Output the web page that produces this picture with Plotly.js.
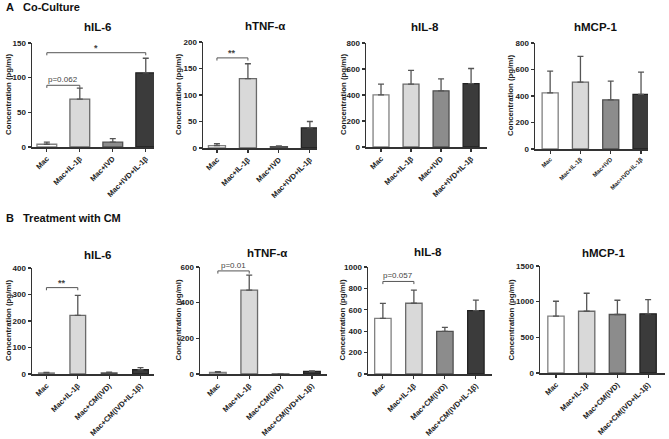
<!DOCTYPE html>
<html>
<head>
<meta charset="utf-8">
<script src="https://cdn.plot.ly/plotly-3.0.1.min.js"></script>
<style>html,body{margin:0;padding:0;background:#fff;}#chart{width:669px;height:439px;}</style>
</head>
<body>
<div id="chart"></div>
<script>
// ---------- DATA ----------
const catsA = ['Mac', 'Mac+IL-1β', 'Mac+IVD', 'Mac+IVD+IL-1β'];
const catsB = ['Mac', 'Mac+IL-1β', 'Mac+CM(IVD)', 'Mac+CM(IVD+IL-1β)'];

const titlesA = ['hIL-6', 'hTNF-α', 'hIL-8', 'hMCP-1'];
const titlesB = ['hIL-6', 'hTNF-α', 'hIL-8', 'hMCP-1'];

// Co-Culture (A): mean and upper error (SEM)
const aIL6Mean = [4, 69, 7, 107];
const aIL6Err  = [3, 16, 5, 21];
const aTNFMean = [4.5, 131, 2.5, 38];
const aTNFErr  = [3.5, 28, 1.5, 12];
const aIL8Mean = [401, 483, 432, 488];
const aIL8Err  = [82, 106, 92, 116];
const aMCPMean = [424, 505, 371, 412];
const aMCPErr  = [164, 194, 142, 168];

// Treatment with CM (B)
const bIL6Mean = [4, 221, 4, 16];
const bIL6Err  = [2, 76, 3, 8];
const bTNFMean = [9, 470, 0.5, 14];
const bTNFErr  = [4, 84, 0, 4];
const bIL8Mean = [520, 661, 398, 592];
const bIL8Err  = [140, 122, 38, 98];
const bMCPMean = [797, 866, 820, 829];
const bMCPErr  = [209, 252, 200, 200];

// y-axis maxima and tick steps
const yMaxA = [150, 200, 800, 800];
const yStepA = [50, 50, 200, 200];
const yMaxB = [400, 600, 1000, 1500];
const yStepB = [100, 200, 200, 500];

// significance brackets: [fromIndex, toIndex, height, label]
const sigAIL6 = [[0, 1, 89, 'p=0.062'], [0, 3, 136, '*']];
const sigATNF = [[0, 1, 170, '**']];
const sigBIL6 = [[0, 1, 326, '**']];
const sigBTNF = [[0, 1, 578, 'p=0.01']];
const sigBIL8 = [[0, 1, 865, 'p=0.057']];

// ---------- LAYOUT / STYLE ----------
const W = 669, H = 439;
const FONT = 'Liberation Sans, Arial, Helvetica, sans-serif';
const fills = ['#ffffff', '#d9d9d9', '#8c8c8c', '#3b3b3b'];
const edges = ['#808080', '#6a6a6a', '#505050', '#222222'];

const panels = [
  {title: titlesA[0], cats: catsA, mean: aIL6Mean, err: aIL6Err, ymax: yMaxA[0], dt: yStepA[0], sig: sigAIL6,
   xPx: [32, 154], yPx: [147, 43], xr: [-0.45, 3.25], tPos: [97, 27], yt: 8, bw: 0.6, xf: 7.5},
  {title: titlesA[1], cats: catsA, mean: aTNFMean, err: aTNFErr, ymax: yMaxA[1], dt: yStepA[1], sig: sigATNF,
   xPx: [203, 317], yPx: [148, 42], xr: [-0.45, 3.23], tPos: [265, 26], yt: 178, bw: 0.55, xf: 7.5},
  {title: titlesA[2], cats: catsA, mean: aIL8Mean, err: aIL8Err, ymax: yMaxA[2], dt: yStepA[2], sig: [],
   xPx: [366, 487], yPx: [147, 43], xr: [-0.5, 3.53], tPos: [425, 27], yt: 343, bw: 0.53, xf: 7.5},
  {title: titlesA[3], cats: catsA, mean: aMCPMean, err: aMCPErr, ymax: yMaxA[3], dt: yStepA[3], sig: [],
   xPx: [535, 648], yPx: [149, 43], xr: [-0.5, 3.23], tPos: [595, 27], yt: 510, bw: 0.53, xf: 6},
  {title: titlesB[0], cats: catsB, mean: bIL6Mean, err: bIL6Err, ymax: yMaxB[0], dt: yStepB[0], sig: sigBIL6,
   xPx: [32, 154], yPx: [374, 268], xr: [-0.46, 3.43], tPos: [97, 255], yt: 8, bw: 0.5, xf: 7.5},
  {title: titlesB[1], cats: catsB, mean: bTNFMean, err: bTNFErr, ymax: yMaxB[1], dt: yStepB[1], sig: sigBTNF,
   xPx: [200, 327], yPx: [374, 267], xr: [-0.57, 3.48], tPos: [267, 253], yt: 178, bw: 0.53, xf: 7.5},
  {title: titlesB[2], cats: catsB, mean: bIL8Mean, err: bIL8Err, ymax: yMaxB[2], dt: yStepB[2], sig: sigBIL8,
   xPx: [368, 492], yPx: [374, 267], xr: [-0.48, 3.52], tPos: [428, 252], yt: 342, bw: 0.53, xf: 7.5},
  {title: titlesB[3], cats: catsB, mean: bMCPMean, err: bMCPErr, ymax: yMaxB[3], dt: yStepB[3], sig: [],
   xPx: [540, 665], yPx: [373, 266], xr: [-0.52, 3.55], tPos: [603, 253], yt: 511, bw: 0.53, xf: 7.5}
];

const data = [];
const layout = {
  width: W, height: H,
  margin: {l: 0, r: 0, t: 0, b: 0},
  paper_bgcolor: '#ffffff', plot_bgcolor: 'rgba(0,0,0,0)',
  showlegend: false,
  font: {family: FONT, color: '#222'},
  shapes: [], annotations: []
};

panels.forEach((p, i) => {
  const s = i === 0 ? '' : String(i + 1);
  const xd = [p.xPx[0] / W, p.xPx[1] / W];
  const yd = [1 - p.yPx[0] / H, 1 - p.yPx[1] / H];
  data.push({
    type: 'bar', x: p.cats, y: p.mean, xaxis: 'x' + s, yaxis: 'y' + s,
    width: p.bw, hoverinfo: 'none', cliponaxis: false,
    marker: {color: fills, line: {color: edges, width: 1.3}},
    error_y: {type: 'data', symmetric: false, array: p.err, arrayminus: p.err.map(() => 0),
              color: '#555', thickness: 1.3, width: 3}
  });
  layout['xaxis' + s] = {
    domain: xd, anchor: 'y' + s, type: 'category', range: p.xr,
    showline: true, linecolor: '#333', linewidth: 1.5, showgrid: false, zeroline: false,
    ticks: 'outside', ticklen: 3, tickcolor: '#333', tickwidth: 1.2,
    tickangle: -45, tickfont: {family: FONT, size: p.xf, weight: 'bold', color: '#222'},
    fixedrange: true, automargin: false
  };
  layout['yaxis' + s] = {
    domain: yd, anchor: 'x' + s, range: [0, p.ymax], tick0: 0, dtick: p.dt,
    showline: true, linecolor: '#333', linewidth: 1.5, showgrid: false, zeroline: false,
    ticks: 'outside', ticklen: 3, tickcolor: '#333', tickwidth: 1.2,
    tickfont: {family: FONT, size: 8, weight: 'bold', color: '#222'},
    fixedrange: true, automargin: false
  };
  // panel title
  layout.annotations.push({
    xref: 'paper', yref: 'paper', x: p.tPos[0] / W, y: 1 - p.tPos[1] / H,
    xanchor: 'center', yanchor: 'middle', showarrow: false,
    text: p.title, font: {family: FONT, size: 11.5, weight: 'bold', color: '#111'}
  });
  // y-axis title
  layout.annotations.push({
    xref: 'paper', yref: 'paper', x: p.yt / W, y: (yd[0] + yd[1]) / 2,
    xanchor: 'center', yanchor: 'middle', showarrow: false, textangle: -90,
    text: 'Concentration (pg/ml)', font: {family: FONT, size: 7.8, weight: 'bold', color: '#222'}
  });
  // significance brackets
  const drop = p.ymax * 0.025;
  p.sig.forEach(([a, b, h, lab]) => {
    const ln = {color: '#555', width: 1};
    const base = {type: 'line', xref: 'x' + s, yref: 'y' + s, line: ln};
    layout.shapes.push(Object.assign({}, base, {x0: a, x1: b, y0: h, y1: h}));
    layout.shapes.push(Object.assign({}, base, {x0: a, x1: a, y0: h - drop, y1: h}));
    layout.shapes.push(Object.assign({}, base, {x0: b, x1: b, y0: h - drop, y1: h}));
    const isStar = lab.indexOf('*') === 0;
    layout.annotations.push({
      xref: 'x' + s, yref: 'y' + s, x: (a + b) / 2, y: h, yanchor: 'bottom', xanchor: 'center',
      showarrow: false, text: lab, yshift: isStar ? -2 : -1,
      font: {family: FONT, size: isStar ? 9 : 8, weight: isStar ? 'bold' : 'normal', color: '#444'}
    });
  });
});

// section headers
[['A', 4, 7], ['Co-Culture', 21, 7], ['B', 4, 218], ['Treatment with CM', 21, 218]].forEach(([t, x, y]) => {
  layout.annotations.push({
    xref: 'paper', yref: 'paper', x: x / W, y: 1 - y / H, xanchor: 'left', yanchor: 'middle',
    showarrow: false, text: t, font: {family: FONT, size: 11, weight: 'bold', color: '#111'}
  });
});

Plotly.newPlot('chart', data, layout, {staticPlot: true, displayModeBar: false});
</script>
</body>
</html>
